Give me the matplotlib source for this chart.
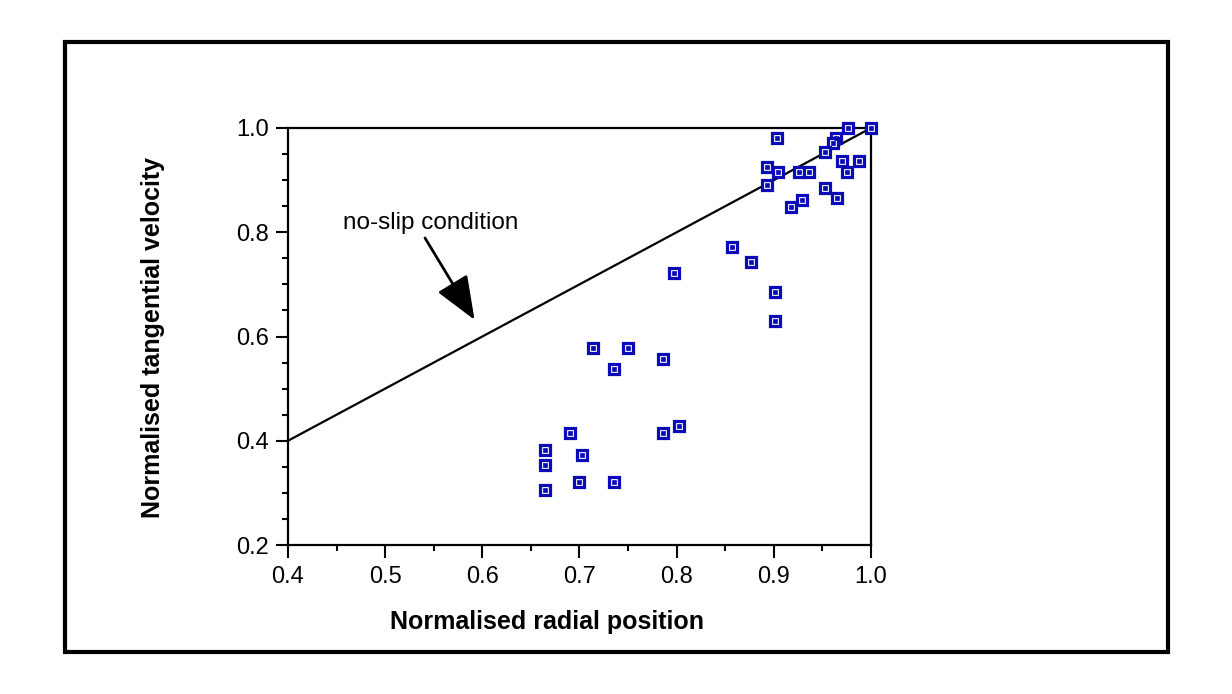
import matplotlib
matplotlib.use("Agg")
import matplotlib.pyplot as plt
from matplotlib.patches import Rectangle
from matplotlib.ticker import MultipleLocator

plt.rcParams['font.family'] = ['Liberation Sans', 'DejaVu Sans']

# data
radial = [0.976, 1.000, 0.903, 0.964, 0.961, 0.953, 0.893, 0.904, 0.893, 0.926,
          0.936, 0.970, 0.988, 0.975, 0.953, 0.965, 0.929, 0.918,
          0.857, 0.876, 0.901, 0.901, 0.797,
          0.714, 0.750, 0.736, 0.786, 0.690, 0.665, 0.665, 0.665, 0.703,
          0.700, 0.736, 0.786, 0.802]
tangential = [1.000, 1.000, 0.981, 0.981, 0.971, 0.953, 0.925, 0.916, 0.891, 0.916,
              0.916, 0.937, 0.937, 0.916, 0.884, 0.865, 0.861, 0.849,
              0.772, 0.742, 0.685, 0.629, 0.721,
              0.577, 0.577, 0.537, 0.557, 0.414, 0.382, 0.353, 0.305, 0.373,
              0.321, 0.321, 0.414, 0.429]
noslip_x = [0.4, 1.0]
noslip_y = [0.4, 1.0]
xticks = [0.4, 0.5, 0.6, 0.7, 0.8, 0.9, 1.0]
yticks = [0.2, 0.4, 0.6, 0.8, 1.0]

W, H = 1232, 694
fig = plt.figure(figsize=(W / 100, H / 100), dpi=100)

# outer frame
fig.patches.append(Rectangle((65 / W, 1 - 652 / H), (1168 - 65) / W, (652 - 42) / H,
                             transform=fig.transFigure, fill=False,
                             edgecolor='black', linewidth=3.0))

ax = fig.add_axes([288 / W, 1 - 545 / H, (871 - 288) / W, (545 - 128) / H])
ax.set_xlim(0.4, 1.0)
ax.set_ylim(0.2, 1.0)

ax.plot(noslip_x, noslip_y, color='black', linewidth=1.6, zorder=2)

blue = '#0a0ab8'
ax.plot(radial, tangential, linestyle='none', marker='s', markersize=7.4,
        markerfacecolor='white', markeredgecolor=blue, markeredgewidth=2.3,
        clip_on=False, zorder=3)
ax.plot(radial, tangential, linestyle='none', marker='s', markersize=2.2,
        markerfacecolor=blue, markeredgecolor=blue, markeredgewidth=0.5,
        clip_on=False, zorder=4)

ax.set_xticks(xticks)
ax.set_yticks(yticks)
ax.set_xticklabels([f"{v:.1f}" for v in xticks])
ax.set_yticklabels([f"{v:.1f}" for v in yticks])
ax.xaxis.set_minor_locator(MultipleLocator(0.05))
ax.yaxis.set_minor_locator(MultipleLocator(0.05))
ax.tick_params(which='major', direction='out', length=9, width=1.5,
               labelsize=17, pad=5, top=False, right=False)
ax.tick_params(axis='x', which='major', pad=6)
ax.tick_params(which='minor', direction='out', length=4.5, width=1.5,
               top=False, right=False)
for s in ax.spines.values():
    s.set_linewidth(1.6)

fig.text(547 / W, 1 - 622 / H, 'Normalised radial position', ha='center', va='center',
         fontsize=18, fontweight='bold')
fig.text(153 / W, 1 - 337 / H, 'Normalised tangential velocity', ha='center', va='center',
         rotation=90, fontsize=18, fontweight='bold')

ax.annotate('', xy=(0.592, 0.632), xytext=(0.541, 0.789),
            arrowprops=dict(arrowstyle='-|>,head_length=1.5,head_width=0.6',
                            color='black', linewidth=2.0, shrinkA=0, shrinkB=0,
                            mutation_scale=18))
ax.text(0.4566, 0.8177, 'no-slip condition', fontsize=17.5, ha='left', va='center')

fig.savefig('out.png', dpi=100)
